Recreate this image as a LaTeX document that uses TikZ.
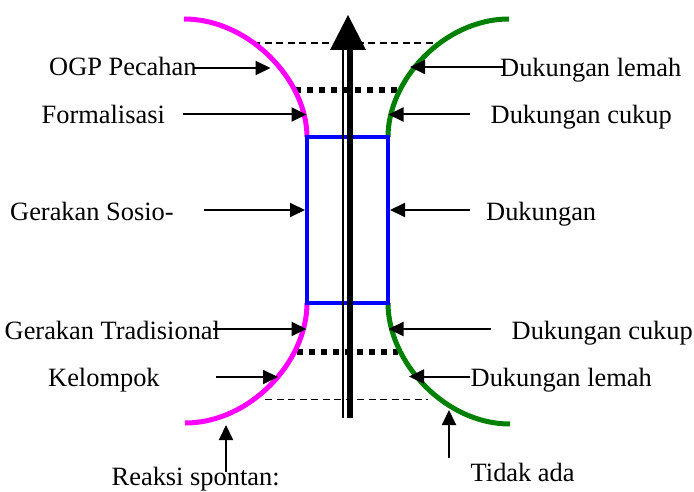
\documentclass[tikz,border=0pt]{standalone}
\usepackage{fontspec}
\setmainfont{Liberation Serif}
\usetikzlibrary{arrows.meta}
\definecolor{mag}{RGB}{255,0,255}
\definecolor{grn}{RGB}{0,128,0}
\definecolor{blu}{RGB}{0,0,255}
\begin{document}
\begin{tikzpicture}[x=1pt,y=-1pt,
  lbl/.style={anchor=base west,inner sep=0pt,font=\fontsize{26.4}{30}\selectfont},
  pointer/.style={line width=2pt,-{Triangle[length=15pt,width=14pt]}},
  curveM/.style={mag,line width=5pt},
  curveG/.style={grn,line width=5pt},
  dashline/.style={line width=1.3pt,dash pattern=on 7pt off 4.5pt},
  dotline/.style={line width=5.5pt,dash pattern=on 6pt off 6pt},
  boxstyle/.style={draw=blu,line width=4.5pt,inner sep=0pt,minimum width=81pt,minimum height=166pt}]
\useasboundingbox (0,0) rectangle (694,492);

% guide lines
\draw[dashline] (253,43) -- (437,43);
\draw[dashline] (265,399.3) -- (428.3,399.3);
\draw[dotline] (295,90) -- (397,90);
\draw[dotline] (297,352) -- (398,352);

% curves
\draw[curveM] (184,19) .. controls (249,19) and (307,80) .. (307,137);
\draw[curveM] (307,303) .. controls (307,362) and (250,423) .. (185,423);
\draw[curveG] (388,137) .. controls (388,80) and (444,19) .. (509,19);
\draw[curveG] (388,303) .. controls (388,362) and (445,424) .. (510,424);

% box
\node[boxstyle] (box) at (347.5,220) {};

% central arrow
\coordinate (ctip) at (348,15);
\coordinate (cbl) at (330,50);
\coordinate (cbr) at (366,50);
\coordinate (ctop1) at (350,50);
\coordinate (cbot1) at (350,418.3);
\coordinate (ctop2) at (342.5,50);
\coordinate (cbot2) at (342.5,418.3);
\fill (ctip) -- (cbl) -- (cbr) -- cycle;
\draw[line width=6.5pt] (ctop1) -- (cbot1);
\draw[line width=2pt] (ctop2) -- (cbot2);

% left labels
\node[lbl] (l1) at (49,76) {OGP Pecahan};
\node[lbl] (l2) at (41.5,123.3) {Formalisasi};
\node[lbl] (l3) at (10,220) {Gerakan Sosio-};
\node[lbl] (l4) at (4.5,339.3) {Gerakan Tradisional};
\node[lbl] (l5) at (48,386) {Kelompok};
\node[lbl] (l6) at (111.5,485.8) {Reaksi spontan:};

% right labels
\node[lbl] (r1) at (500,76.7) {Dukungan lemah};
\node[lbl] (r2) at (490.5,123.3) {Dukungan cukup};
\node[lbl] (r3) at (486,220) {Dukungan};
\node[lbl] (r4) at (511.5,339.3) {Dukungan cukup};
\node[lbl] (r5) at (470.5,386) {Dukungan lemah};
\node[lbl] (r6) at (470.5,481.7) {Tidak ada};

% arrow end points
\coordinate (a1s) at (193,68);    \coordinate (a1e) at (270.5,68);
\coordinate (a2s) at (183,114.5); \coordinate (a2e) at (306.5,114.5);
\coordinate (a3s) at (204,210);   \coordinate (a3e) at (305,210);
\coordinate (a4s) at (213,329);   \coordinate (a4e) at (306.5,329);
\coordinate (a5s) at (216,377);   \coordinate (a5e) at (278,377);
\coordinate (a6s) at (226,472);   \coordinate (a6e) at (226,425);
\coordinate (b1s) at (505,67);    \coordinate (b1e) at (410,67);
\coordinate (b2s) at (470,114.5); \coordinate (b2e) at (388.5,114.5);
\coordinate (b3s) at (470,210);   \coordinate (b3e) at (390,210);
\coordinate (b4s) at (491,329);   \coordinate (b4e) at (388.5,329);
\coordinate (b5s) at (470,376.5); \coordinate (b5e) at (409,376.5);
\coordinate (b6s) at (449,458);   \coordinate (b6e) at (449,410);

\foreach \p in {a1,a2,a3,a4,a5,a6,b1,b2,b3,b4,b5,b6}
  \draw[pointer] (\p s) -- (\p e);
\end{tikzpicture}
\end{document}
